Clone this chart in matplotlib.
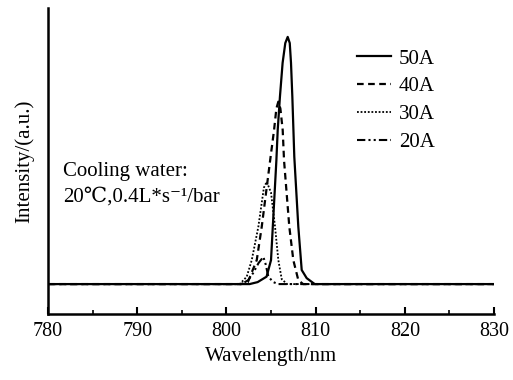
import matplotlib
matplotlib.use("Agg")
import matplotlib.pyplot as plt
from matplotlib.ticker import MultipleLocator

plt.rcParams['font.family'] = ['Liberation Serif', 'DejaVu Serif']

# spectra (wavelength nm, normalised intensity)
wl_50 = [780, 802.6, 803.5, 804.5, 805.0, 805.2, 805.6, 805.75, 806.0, 806.3, 806.6, 806.87,
         807.1, 807.24, 807.39, 807.61, 808.06, 808.44, 809.0, 809.9, 830]
i_50 = [0, 0, 0.008, 0.03, 0.097, 0.232, 0.50, 0.623, 0.758, 0.895, 0.975, 1.0,
        0.975, 0.895, 0.758, 0.515, 0.232, 0.057, 0.024, 0, 0]

wl_40 = [780, 801.6, 802.4, 803.4, 803.96, 804.9, 805.34, 805.6, 805.82, 806.05,
         806.31, 806.46, 807.05, 807.5, 808.06, 808.6, 830]
i_40 = [0, 0, 0.008, 0.097, 0.232, 0.50, 0.623, 0.71, 0.738, 0.71,
        0.623, 0.50, 0.232, 0.097, 0.016, 0, 0]

wl_30 = [780, 801.5, 802.28, 802.84, 803.58, 804.2, 804.52, 805.0, 805.45, 805.82,
         806.2, 806.8, 830]
i_30 = [0, 0, 0.03, 0.097, 0.232, 0.39, 0.414, 0.37, 0.232, 0.097,
        0.02, 0, 0]

wl_20 = [780, 801.7, 802.45, 803.0, 803.6, 804.14, 804.4, 804.7, 805.26, 805.8, 830]
i_20 = [0, 0, 0.016, 0.045, 0.085, 0.11, 0.08, 0.03, 0.008, 0, 0]

labels = ['50A', '40A', '30A', '20A']

fig = plt.figure(figsize=(5.13, 3.80), dpi=100)
ax = fig.add_axes([0.0936, 0.1737, 0.8694, 0.8053])

ax.plot(wl_50, i_50, color='black', lw=1.6, ls='-', label=labels[0])
ax.plot(wl_40, i_40, color='black', lw=1.6, ls=(0, (3, 2)), label=labels[1])
ax.plot(wl_30, i_30, color='black', lw=1.3, ls=(0, (1, 1)), label=labels[2])
ax.plot(wl_20, i_20, color='black', lw=1.5, ls=(0, (4, 1.5, 1, 1.5, 1, 1.5)), label=labels[3])

ax.set_xlim(780, 830)
ax.set_ylim(-0.121, 1.117)
ax.xaxis.set_major_locator(MultipleLocator(10))
ax.xaxis.set_minor_locator(MultipleLocator(5))
ax.tick_params(axis='x', which='major', direction='in', length=5, width=1.5,
               labelsize=14.5, pad=6)
ax.tick_params(axis='x', which='minor', direction='in', length=3, width=1.2)
ax.set_yticks([])
for s in ['top', 'right']:
    ax.spines[s].set_visible(False)
for s in ['left', 'bottom']:
    ax.spines[s].set_linewidth(1.8)

ax.set_xlabel('Wavelength/nm', fontsize=15, labelpad=4)
ax.set_ylabel('Intensity/(a.u.)', fontsize=15, labelpad=10)

ax.text(781.7, 0.405, 'Cooling water:\n20\u2103,0.4L*s\u207b\u00b9/bar', fontsize=15,
        va='center', ha='left', linespacing=1.45)

ax.legend(loc='upper left', bbox_to_anchor=(0.67, 0.90), frameon=False, fontsize=15,
          handlelength=1.6, handletextpad=0.4, labelspacing=0.4, borderpad=0)

fig.savefig('out.png', dpi=100)
